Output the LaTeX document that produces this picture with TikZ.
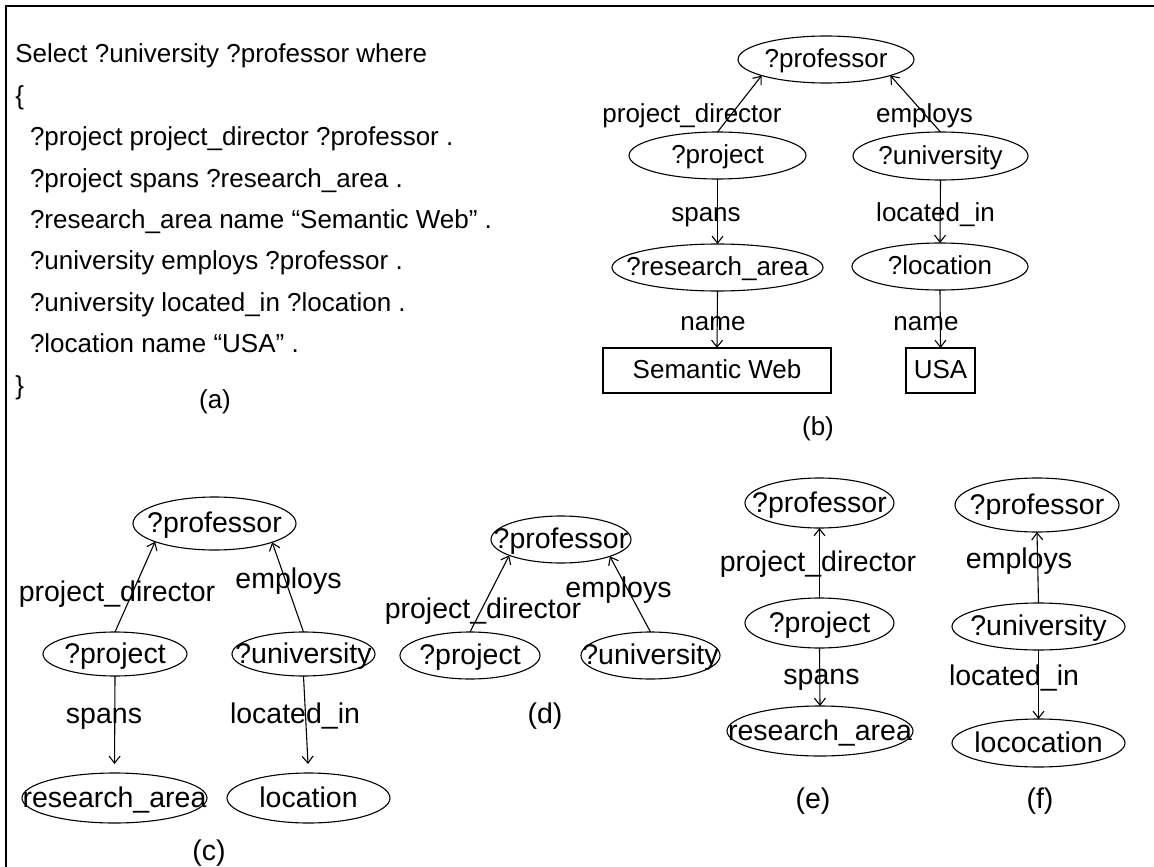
\documentclass[tikz,border=0pt]{standalone}
\usepackage{fontspec}
\setmainfont{Liberation Sans}
\usetikzlibrary{shapes.geometric,arrows.meta}
% zero-width box so that a long word may overhang its ellipse
\newcommand{\zw}[1]{\makebox[0pt]{#1}}
\begin{document}
\begin{tikzpicture}[x=1pt,y=-1pt,
  txt/.style={inner sep=0pt, outer sep=0pt},
  smallfont/.style={font=\fontsize{26}{31}\selectfont},
  bigfont/.style={font=\fontsize{28.5}{34}\selectfont},
  code/.style={txt, smallfont, anchor=base west},
  lbl/.style={txt, anchor=base},
  var/.style={txt, draw, ellipse, line width=1.1pt},
  lit/.style={txt, draw, rectangle, line width=1.1pt},
  topbox/.style={smallfont, text height=19pt, text depth=2.3pt},
  botbox/.style={bigfont, text height=20.8pt, text depth=2.5pt},
  arr/.style={line width=1.1pt, -{Straight Barb[length=7pt,width=11pt]}},
]
\useasboundingbox (0,0) rectangle (1154,867);
% frame
\draw[line width=2pt] (6,867) -- (6,6.5) -- (1154,6.5);

% (a) the query
\node[code] (q1) at (15.4,62.7)  {Select ?university ?professor where};
\node[code] (q2) at (15.4,104.1) {\{};
\node[code] (q3) at (30,145.6) {?project project\_director ?professor .};
\node[code] (q4) at (30,187)   {?project spans ?research\_area .};
\node[code] (q5) at (30,228.4) {?research\_area name “Semantic Web” .};
\node[code] (q6) at (30,269.9) {?university employs ?professor .};
\node[code] (q7) at (30,311.3) {?university located\_in ?location .};
\node[code] (q8) at (30,352.7) {?location name “USA” .};
\node[code] (q9) at (15.4,394.1) {\}};
\node[lbl, smallfont] (capa) at (215,408) {(a)};

% (b) full query graph
\begin{scope}[every node/.append style={smallfont}]
\node[var, topbox, minimum width=176pt, minimum height=47pt] (bprof) at (826,59.5) {\zw{?professor}};
\node[var, topbox, minimum width=177pt, minimum height=47pt] (bproj) at (717.5,155.5) {\zw{?project}};
\node[var, topbox, minimum width=175pt, minimum height=48pt] (buni) at (940.5,156) {\zw{?university}};
\node[var, topbox, minimum width=211pt, minimum height=47pt] (bres) at (717.5,267.5) {\zw{?research\_area}};
\node[var, topbox, minimum width=176pt, minimum height=47pt] (bloc) at (940,266.5) {\zw{?location}};
\node[lit, topbox, minimum width=228pt, minimum height=45pt] (bsem) at (717,370.5) {\zw{Semantic Web}};
\node[lit, topbox, minimum width=69pt, minimum height=45pt] (busa) at (940.5,370.5) {\zw{USA}};
\draw[arr] (bproj.north) -- (bprof.194.6);
\draw[arr] (buni.north) -- (bprof.346.3);
\draw[arr] (bproj.south) -- (bres.north);
\draw[arr] (buni.south) -- (bloc.north);
\draw[arr] (bres.south) -- (bsem.north);
\draw[arr] (bloc.south) -- (busa.north);
\node[lbl] (bl1) at (692,122) {project\_director};
\node[lbl] (bl2) at (924.5,122) {employs};
\node[lbl] (bl3) at (706,221) {spans};
\node[lbl] (bl4) at (935.5,221) {located\_in};
\node[lbl] (bl5) at (713,330) {name};
\node[lbl] (bl6) at (926,330) {name};
\node[lbl] (capb) at (818,435) {(b)};
\end{scope}

\begin{scope}[every node/.append style={bigfont}]
% (c)
\node[var, botbox, minimum width=163pt, minimum height=53pt] (cprof) at (214.5,523.5) {\zw{?professor}};
\node[var, botbox, minimum width=144pt, minimum height=44pt] (cproj) at (115,654) {\zw{?project}};
\node[var, botbox, minimum width=143pt, minimum height=44pt] (cuni) at (303.5,654) {\zw{?university}};
\node[var, botbox, minimum width=185pt, minimum height=50pt] (cres) at (114.5,798) {\zw{research\_area}};
\node[var, botbox, minimum width=163pt, minimum height=50pt] (cloc) at (308.5,798) {\zw{location}};
\draw[arr] (cproj.north) -- (cprof.197);
\draw[arr] (cuni.north) -- (cprof.342);
\draw[arr, shorten >=9pt] (cproj.south) -- (cres.north);
\draw[arr, shorten >=9pt] (cuni.south) -- (cloc.north);
\node[lbl] (cl1) at (117,601) {project\_director};
\node[lbl] (cl2) at (288.5,588) {employs};
\node[lbl] (cl3) at (104,723) {spans};
\node[lbl] (cl4) at (295,723) {located\_in};
\node[lbl] (capc) at (209,860) {(c)};

% (d)
\node[var, botbox, minimum width=140pt, minimum height=47pt] (dprof) at (561,539.5) {\zw{?professor}};
\node[var, botbox, minimum width=140pt, minimum height=47pt] (dproj) at (470,655.5) {\zw{?project}};
\node[var, botbox, minimum width=139pt, minimum height=47pt] (duni) at (650.5,655.5) {\zw{?university}};
\draw[arr] (dproj.north) -- (dprof.197.5);
\draw[arr] (duni.north) -- (dprof.341.7);
\node[lbl] (dl1) at (483,618) {project\_director};
\node[lbl] (dl2) at (618.5,597) {employs};
\node[lbl] (capd) at (545,723) {(d)};

% (e)
\node[var, botbox, minimum width=149pt, minimum height=50pt] (eprof) at (819.5,503) {\zw{?professor}};
\node[var, botbox, minimum width=149pt, minimum height=50pt] (eproj) at (819.5,623) {\zw{?project}};
\node[var, botbox, minimum width=186pt, minimum height=50pt] (eres) at (820,731) {\zw{research\_area}};
\draw[arr] (eproj.north) -- (eprof.south);
\draw[arr] (eproj.south) -- (eres.north);
\node[lbl] (el1) at (818,571) {project\_director};
\node[lbl] (el2) at (821.5,684) {spans};
\node[lbl] (cape) at (813,808) {(e)};

% (f)
\node[var, botbox, minimum width=164pt, minimum height=54pt] (fprof) at (1037,505) {\zw{?professor}};
\node[var, botbox, minimum width=173pt, minimum height=47pt] (funi) at (1038.5,626.5) {\zw{?university}};
\node[var, botbox, minimum width=173pt, minimum height=48pt] (floc) at (1038.5,743) {\zw{lococation}};
\draw[arr] (funi.north) -- (fprof.south);
\draw[arr] (funi.south) -- (floc.north);
\node[lbl] (fl1) at (1019,568) {employs};
\node[lbl] (fl2) at (1014,685) {located\_in};
\node[lbl] (capf) at (1040,808) {(f)};
\end{scope}
\end{tikzpicture}
\end{document}
